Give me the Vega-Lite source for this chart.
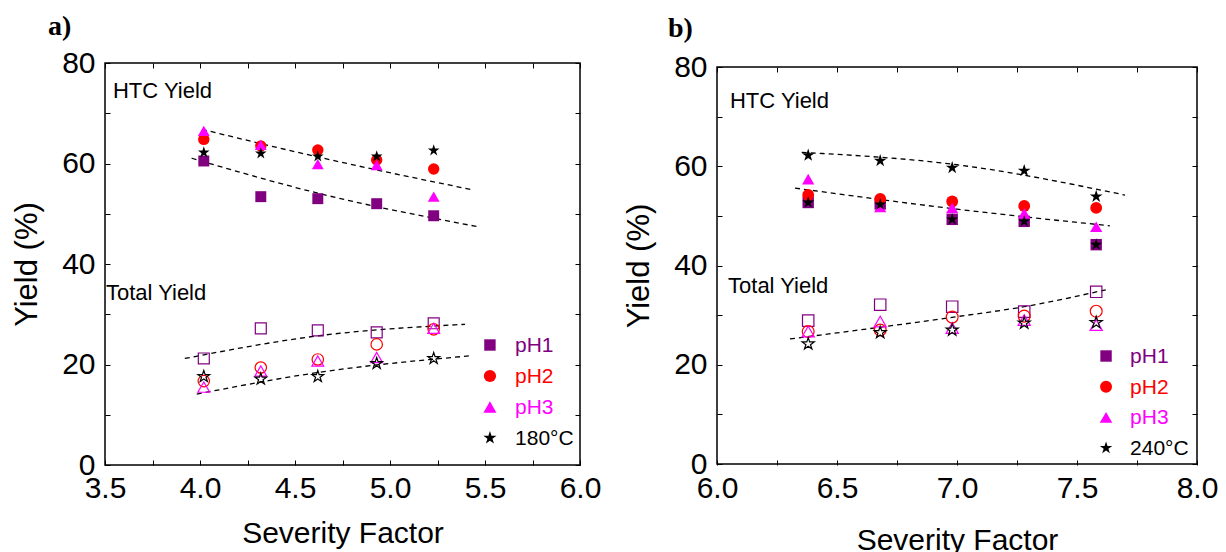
{
  "$schema": "https://vega.github.io/schema/vega-lite/v6.json",
  "background": "white",
  "autosize": {"type": "none"},
  "width": 1092,
  "height": 402,
  "padding": {"left": 105, "top": 63, "right": 29, "bottom": 87},
  "data": {
    "values": [
      {"panel": "a", "kind": "HTC", "series": "pH1", "sf": 4.02, "yield": 60.5},
      {"panel": "a", "kind": "HTC", "series": "pH1", "sf": 4.32, "yield": 53.4},
      {"panel": "a", "kind": "HTC", "series": "pH1", "sf": 4.62, "yield": 53.0},
      {"panel": "a", "kind": "HTC", "series": "pH1", "sf": 4.93, "yield": 52.0},
      {"panel": "a", "kind": "HTC", "series": "pH1", "sf": 5.23, "yield": 49.6},
      {"panel": "a", "kind": "HTC", "series": "pH2", "sf": 4.02, "yield": 64.8},
      {"panel": "a", "kind": "HTC", "series": "pH2", "sf": 4.32, "yield": 63.5},
      {"panel": "a", "kind": "HTC", "series": "pH2", "sf": 4.62, "yield": 62.7},
      {"panel": "a", "kind": "HTC", "series": "pH2", "sf": 4.93, "yield": 60.7},
      {"panel": "a", "kind": "HTC", "series": "pH2", "sf": 5.23, "yield": 58.9},
      {"panel": "a", "kind": "HTC", "series": "pH3", "sf": 4.02, "yield": 66.5},
      {"panel": "a", "kind": "HTC", "series": "pH3", "sf": 4.32, "yield": 63.7},
      {"panel": "a", "kind": "HTC", "series": "pH3", "sf": 4.62, "yield": 59.9},
      {"panel": "a", "kind": "HTC", "series": "pH3", "sf": 4.93, "yield": 59.7},
      {"panel": "a", "kind": "HTC", "series": "pH3", "sf": 5.23, "yield": 53.4},
      {"panel": "a", "kind": "HTC", "series": "180°C", "sf": 4.02, "yield": 62.2},
      {"panel": "a", "kind": "HTC", "series": "180°C", "sf": 4.32, "yield": 62.0},
      {"panel": "a", "kind": "HTC", "series": "180°C", "sf": 4.62, "yield": 61.4},
      {"panel": "a", "kind": "HTC", "series": "180°C", "sf": 4.93, "yield": 61.4},
      {"panel": "a", "kind": "HTC", "series": "180°C", "sf": 5.23, "yield": 62.6},
      {"panel": "a", "kind": "Total", "series": "pH1", "sf": 4.02, "yield": 21.2},
      {"panel": "a", "kind": "Total", "series": "pH1", "sf": 4.32, "yield": 27.2},
      {"panel": "a", "kind": "Total", "series": "pH1", "sf": 4.62, "yield": 26.8},
      {"panel": "a", "kind": "Total", "series": "pH1", "sf": 4.93, "yield": 26.4},
      {"panel": "a", "kind": "Total", "series": "pH1", "sf": 5.23, "yield": 28.2},
      {"panel": "a", "kind": "Total", "series": "pH2", "sf": 4.02, "yield": 16.7},
      {"panel": "a", "kind": "Total", "series": "pH2", "sf": 4.32, "yield": 19.4},
      {"panel": "a", "kind": "Total", "series": "pH2", "sf": 4.62, "yield": 21.0},
      {"panel": "a", "kind": "Total", "series": "pH2", "sf": 4.93, "yield": 24.0},
      {"panel": "a", "kind": "Total", "series": "pH2", "sf": 5.23, "yield": 27.0},
      {"panel": "a", "kind": "Total", "series": "pH3", "sf": 4.02, "yield": 15.5},
      {"panel": "a", "kind": "Total", "series": "pH3", "sf": 4.32, "yield": 18.7},
      {"panel": "a", "kind": "Total", "series": "pH3", "sf": 4.62, "yield": 20.7},
      {"panel": "a", "kind": "Total", "series": "pH3", "sf": 4.93, "yield": 21.4},
      {"panel": "a", "kind": "Total", "series": "pH3", "sf": 5.23, "yield": 27.2},
      {"panel": "a", "kind": "Total", "series": "180°C", "sf": 4.02, "yield": 17.6},
      {"panel": "a", "kind": "Total", "series": "180°C", "sf": 4.32, "yield": 17.1},
      {"panel": "a", "kind": "Total", "series": "180°C", "sf": 4.62, "yield": 17.6},
      {"panel": "a", "kind": "Total", "series": "180°C", "sf": 4.93, "yield": 20.2},
      {"panel": "a", "kind": "Total", "series": "180°C", "sf": 5.23, "yield": 21.2},
      {"panel": "a", "kind": "trend", "series": "HTC upper", "sf": 4.01, "yield": 66.8},
      {"panel": "a", "kind": "trend", "series": "HTC upper", "sf": 4.62, "yield": 61.3},
      {"panel": "a", "kind": "trend", "series": "HTC upper", "sf": 5.43, "yield": 54.8},
      {"panel": "a", "kind": "trend", "series": "HTC lower", "sf": 3.956, "yield": 61.05},
      {"panel": "a", "kind": "trend", "series": "HTC lower", "sf": 4.62, "yield": 54.1},
      {"panel": "a", "kind": "trend", "series": "HTC lower", "sf": 5.465, "yield": 47.4},
      {"panel": "a", "kind": "trend", "series": "Total upper", "sf": 3.92, "yield": 21.2},
      {"panel": "a", "kind": "trend", "series": "Total upper", "sf": 4.62, "yield": 25.7},
      {"panel": "a", "kind": "trend", "series": "Total upper", "sf": 5.395, "yield": 28.0},
      {"panel": "a", "kind": "trend", "series": "Total lower", "sf": 3.983, "yield": 14.1},
      {"panel": "a", "kind": "trend", "series": "Total lower", "sf": 4.62, "yield": 18.4},
      {"panel": "a", "kind": "trend", "series": "Total lower", "sf": 5.415, "yield": 21.7},
      {"panel": "b", "kind": "ref", "series": "240°C (top)", "sf": 6.38, "yield": 62.2},
      {"panel": "b", "kind": "ref", "series": "240°C (top)", "sf": 6.68, "yield": 61.1},
      {"panel": "b", "kind": "ref", "series": "240°C (top)", "sf": 6.98, "yield": 59.7},
      {"panel": "b", "kind": "ref", "series": "240°C (top)", "sf": 7.28, "yield": 59.1},
      {"panel": "b", "kind": "ref", "series": "240°C (top)", "sf": 7.58, "yield": 53.9},
      {"panel": "b", "kind": "HTC", "series": "pH1", "sf": 6.38, "yield": 52.7},
      {"panel": "b", "kind": "HTC", "series": "pH1", "sf": 6.68, "yield": 52.4},
      {"panel": "b", "kind": "HTC", "series": "pH1", "sf": 6.98, "yield": 49.3},
      {"panel": "b", "kind": "HTC", "series": "pH1", "sf": 7.28, "yield": 48.9},
      {"panel": "b", "kind": "HTC", "series": "pH1", "sf": 7.58, "yield": 44.2},
      {"panel": "b", "kind": "HTC", "series": "pH2", "sf": 6.38, "yield": 54.2},
      {"panel": "b", "kind": "HTC", "series": "pH2", "sf": 6.68, "yield": 53.4},
      {"panel": "b", "kind": "HTC", "series": "pH2", "sf": 6.98, "yield": 52.9},
      {"panel": "b", "kind": "HTC", "series": "pH2", "sf": 7.28, "yield": 52.0},
      {"panel": "b", "kind": "HTC", "series": "pH2", "sf": 7.58, "yield": 51.6},
      {"panel": "b", "kind": "HTC", "series": "pH3", "sf": 6.38, "yield": 57.4},
      {"panel": "b", "kind": "HTC", "series": "pH3", "sf": 6.68, "yield": 51.8},
      {"panel": "b", "kind": "HTC", "series": "pH3", "sf": 6.98, "yield": 51.6},
      {"panel": "b", "kind": "HTC", "series": "pH3", "sf": 7.28, "yield": 50.5},
      {"panel": "b", "kind": "HTC", "series": "pH3", "sf": 7.58, "yield": 47.8},
      {"panel": "b", "kind": "HTC", "series": "240°C", "sf": 6.38, "yield": 52.7},
      {"panel": "b", "kind": "HTC", "series": "240°C", "sf": 6.68, "yield": 52.3},
      {"panel": "b", "kind": "HTC", "series": "240°C", "sf": 6.98, "yield": 49.3},
      {"panel": "b", "kind": "HTC", "series": "240°C", "sf": 7.28, "yield": 48.9},
      {"panel": "b", "kind": "HTC", "series": "240°C", "sf": 7.58, "yield": 44.2},
      {"panel": "b", "kind": "Total", "series": "pH1", "sf": 6.38, "yield": 28.9},
      {"panel": "b", "kind": "Total", "series": "pH1", "sf": 6.68, "yield": 32.1},
      {"panel": "b", "kind": "Total", "series": "pH1", "sf": 6.98, "yield": 31.7},
      {"panel": "b", "kind": "Total", "series": "pH1", "sf": 7.28, "yield": 30.7},
      {"panel": "b", "kind": "Total", "series": "pH1", "sf": 7.58, "yield": 34.7},
      {"panel": "b", "kind": "Total", "series": "pH2", "sf": 6.38, "yield": 26.7},
      {"panel": "b", "kind": "Total", "series": "pH2", "sf": 6.68, "yield": 27.0},
      {"panel": "b", "kind": "Total", "series": "pH2", "sf": 6.98, "yield": 29.6},
      {"panel": "b", "kind": "Total", "series": "pH2", "sf": 7.28, "yield": 29.8},
      {"panel": "b", "kind": "Total", "series": "pH2", "sf": 7.58, "yield": 30.8},
      {"panel": "b", "kind": "Total", "series": "pH3", "sf": 6.38, "yield": 26.7},
      {"panel": "b", "kind": "Total", "series": "pH3", "sf": 6.68, "yield": 28.7},
      {"panel": "b", "kind": "Total", "series": "pH3", "sf": 6.98, "yield": 27.4},
      {"panel": "b", "kind": "Total", "series": "pH3", "sf": 7.28, "yield": 29.0},
      {"panel": "b", "kind": "Total", "series": "pH3", "sf": 7.58, "yield": 28.0},
      {"panel": "b", "kind": "Total", "series": "240°C", "sf": 6.38, "yield": 24.2},
      {"panel": "b", "kind": "Total", "series": "240°C", "sf": 6.68, "yield": 26.5},
      {"panel": "b", "kind": "Total", "series": "240°C", "sf": 6.98, "yield": 27.0},
      {"panel": "b", "kind": "Total", "series": "240°C", "sf": 7.28, "yield": 28.4},
      {"panel": "b", "kind": "Total", "series": "240°C", "sf": 7.58, "yield": 28.5},
      {"panel": "b", "kind": "trend", "series": "HTC upper", "sf": 6.353, "yield": 62.8},
      {"panel": "b", "kind": "trend", "series": "HTC upper", "sf": 7.0, "yield": 60.3},
      {"panel": "b", "kind": "trend", "series": "HTC upper", "sf": 7.7, "yield": 54.2},
      {"panel": "b", "kind": "trend", "series": "HTC lower", "sf": 6.325, "yield": 55.6},
      {"panel": "b", "kind": "trend", "series": "HTC lower", "sf": 7.0, "yield": 51.35},
      {"panel": "b", "kind": "trend", "series": "HTC lower", "sf": 7.637, "yield": 48.0},
      {"panel": "b", "kind": "trend", "series": "Total", "sf": 6.304, "yield": 25.2},
      {"panel": "b", "kind": "trend", "series": "Total", "sf": 7.0, "yield": 29.7},
      {"panel": "b", "kind": "trend", "series": "Total", "sf": 7.28, "yield": 31.7},
      {"panel": "b", "kind": "trend", "series": "Total", "sf": 7.62, "yield": 35.1}
    ]
  },
  "layer": [
    {
      "data": {"values": [{}]},
      "mark": {"type": "rect", "fill": "transparent", "stroke": "#000", "strokeWidth": 1.5},
      "encoding": {
        "x": {"datum": 3.5, "scale": {"domain": [3.5, 6.0], "range": [0, 475], "nice": false, "zero": false},
              "axis": {"orient": "top", "labels": false, "title": null, "values": [3.5, 3.75, 4.0, 4.25, 4.5, 4.75, 5.0, 5.25, 5.5, 5.75, 6.0]}},
        "x2": {"datum": 6.0},
        "y": {"datum": 0, "scale": {"domain": [0, 80], "range": [402, 0], "nice": false, "zero": false},
              "axis": {"orient": "right", "offset": -617, "labels": false, "title": null, "values": [0, 10, 20, 30, 40, 50, 60, 70, 80]}},
        "y2": {"datum": 80}
      }
    },
    {
      "data": {"values": [{}]},
      "mark": {"type": "rect", "fill": "transparent", "stroke": "#000", "strokeWidth": 1.5},
      "encoding": {
        "x": {"datum": 6.0, "scale": {"domain": [6.0, 8.0], "range": [612, 1092], "nice": false, "zero": false},
              "axis": {"orient": "top", "offset": -4, "labels": false, "title": null, "values": [6.0, 6.25, 6.5, 6.75, 7.0, 7.25, 7.5, 7.75, 8.0]}},
        "x2": {"datum": 8.0},
        "y": {"datum": 0, "scale": {"domain": [0, 80], "range": [401, 4], "nice": false, "zero": false},
              "axis": {"orient": "right", "labels": false, "title": null, "values": [0, 10, 20, 30, 40, 50, 60, 70, 80]}},
        "y2": {"datum": 80}
      }
    },
    {
      "transform": [{"filter": "datum.panel == 'a' && datum.kind == 'trend'"}],
      "mark": {"type": "line", "strokeDash": [5, 4], "strokeWidth": 1.3, "color": "#000", "interpolate": "monotone"},
      "encoding": {
        "x": {"field": "sf", "type": "quantitative", "scale": {"domain": [3.5, 6.0], "range": [0, 475], "nice": false, "zero": false},
              "axis": {"orient": "bottom", "title": "Severity Factor", "titlePadding": 15, "labelPadding": 13,
                       "values": [3.5, 3.75, 4.0, 4.25, 4.5, 4.75, 5.0, 5.25, 5.5, 5.75, 6.0],
                       "labelExpr": "(datum.value * 2) % 1 == 0 ? format(datum.value, '.1f') : ''"}},
        "y": {"field": "yield", "type": "quantitative", "scale": {"domain": [0, 80], "range": [402, 0], "nice": false, "zero": false},
              "axis": {"orient": "left", "title": "Yield (%)", "titlePadding": 18, "labelPadding": 15, "titleFontSize": 31,
                       "values": [0, 10, 20, 30, 40, 50, 60, 70, 80],
                       "labelExpr": "datum.value % 20 == 0 ? datum.label : ''"}},
        "detail": {"field": "series"}
      }
    },
    {
      "transform": [{"filter": "datum.panel == 'a' && datum.kind == 'HTC'"}],
      "mark": {"type": "point", "filled": true, "opacity": 1, "strokeWidth": 0},
      "encoding": {
        "x": {"field": "sf", "type": "quantitative", "scale": {"domain": [3.5, 6.0], "range": [0, 475], "nice": false, "zero": false}, "axis": null},
        "y": {"field": "yield", "type": "quantitative", "scale": {"domain": [0, 80], "range": [402, 0], "nice": false, "zero": false}, "axis": null},
        "color": {"field": "series", "type": "nominal", "scale": {"domain": ["pH1", "pH2", "pH3", "180°C"], "range": ["#800080", "#ff0000", "#ff00ff", "#000000"]}, "legend": null},
        "shape": {"field": "series", "type": "nominal", "scale": {"domain": ["pH1", "pH2", "pH3", "180°C"], "range": ["square", "circle", "triangle-up", "M0,-1L0.2245,-0.309L0.9511,-0.309L0.3633,0.118L0.5878,0.809L0,0.382L-0.5878,0.809L-0.3633,0.118L-0.9511,-0.309L-0.2245,-0.309Z"]}, "legend": null},
        "size": {"field": "series", "type": "nominal", "scale": {"domain": ["pH1", "pH2", "pH3", "180°C"], "range": [120, 150, 210, 190]}, "legend": null}
      }
    },
    {
      "transform": [{"filter": "datum.panel == 'a' && datum.kind == 'Total'"}],
      "mark": {"type": "point", "filled": false, "opacity": 1, "strokeWidth": 1.2},
      "encoding": {
        "x": {"field": "sf", "type": "quantitative", "scale": {"domain": [3.5, 6.0], "range": [0, 475], "nice": false, "zero": false}, "axis": null},
        "y": {"field": "yield", "type": "quantitative", "scale": {"domain": [0, 80], "range": [402, 0], "nice": false, "zero": false}, "axis": null},
        "color": {"field": "series", "type": "nominal", "scale": {"domain": ["pH1", "pH2", "pH3", "180°C"], "range": ["#800080", "#ff0000", "#ff00ff", "#000000"]}, "legend": null},
        "shape": {"field": "series", "type": "nominal", "scale": {"domain": ["pH1", "pH2", "pH3", "180°C"], "range": ["square", "circle", "triangle-up", "M0,-1L0.2245,-0.309L0.9511,-0.309L0.3633,0.118L0.5878,0.809L0,0.382L-0.5878,0.809L-0.3633,0.118L-0.9511,-0.309L-0.2245,-0.309Z"]}, "legend": null},
        "size": {"field": "series", "type": "nominal", "scale": {"domain": ["pH1", "pH2", "pH3", "180°C"], "range": [120, 150, 210, 190]}, "legend": null}
      }
    },
    {
      "data": {"values": [{"series": "pH1"}, {"series": "pH2"}, {"series": "pH3"}, {"series": "180°C"}]},
      "mark": {"type": "point", "filled": true, "opacity": 1, "strokeWidth": 0},
      "encoding": {
        "x": {"datum": 5.526, "scale": {"domain": [3.5, 6.0], "range": [0, 475], "nice": false, "zero": false}, "axis": null},
        "y": {"field": "series", "type": "nominal", "scale": {"type": "point", "domain": ["pH1", "pH2", "pH3", "180°C"], "range": [282, 375], "padding": 0}, "axis": null},
        "color": {"field": "series", "type": "nominal", "scale": {"domain": ["pH1", "pH2", "pH3", "180°C"], "range": ["#800080", "#ff0000", "#ff00ff", "#000000"]}, "legend": null},
        "shape": {"field": "series", "type": "nominal", "scale": {"domain": ["pH1", "pH2", "pH3", "180°C"], "range": ["square", "circle", "triangle-up", "M0,-1L0.2245,-0.309L0.9511,-0.309L0.3633,0.118L0.5878,0.809L0,0.382L-0.5878,0.809L-0.3633,0.118L-0.9511,-0.309L-0.2245,-0.309Z"]}, "legend": null},
        "size": {"field": "series", "type": "nominal", "scale": {"domain": ["pH1", "pH2", "pH3", "180°C"], "range": [130, 190, 220, 220]}, "legend": null}
      }
    },
    {
      "data": {"values": [{"series": "pH1"}, {"series": "pH2"}, {"series": "pH3"}, {"series": "180°C"}]},
      "mark": {"type": "text", "align": "left", "baseline": "middle", "font": "Liberation Sans", "fontSize": 21, "dy": 1},
      "encoding": {
        "x": {"datum": 5.658, "scale": {"domain": [3.5, 6.0], "range": [0, 475], "nice": false, "zero": false}, "axis": null},
        "y": {"field": "series", "type": "nominal", "scale": {"type": "point", "domain": ["pH1", "pH2", "pH3", "180°C"], "range": [282, 375], "padding": 0}, "axis": null},
        "text": {"field": "series"},
        "color": {"field": "series", "type": "nominal", "scale": {"domain": ["pH1", "pH2", "pH3", "180°C"], "range": ["#800080", "#ff0000", "#ff00ff", "#000000"]}, "legend": null}
      }
    },
    {
      "data": {"values": [{}]},
      "mark": {"type": "text", "align": "left", "baseline": "alphabetic", "font": "Liberation Sans", "fontSize": 22, "color": "#000"},
      "encoding": {
        "x": {"datum": 3.542, "scale": {"domain": [3.5, 6.0], "range": [0, 475], "nice": false, "zero": false}, "axis": null},
        "y": {"datum": 73.0, "scale": {"domain": [0, 80], "range": [402, 0], "nice": false, "zero": false}, "axis": null},
        "text": {"value": "HTC Yield"}
      }
    },
    {
      "data": {"values": [{}]},
      "mark": {"type": "text", "align": "left", "baseline": "alphabetic", "font": "Liberation Sans", "fontSize": 22, "color": "#000"},
      "encoding": {
        "x": {"datum": 3.505, "scale": {"domain": [3.5, 6.0], "range": [0, 475], "nice": false, "zero": false}, "axis": null},
        "y": {"datum": 32.9, "scale": {"domain": [0, 80], "range": [402, 0], "nice": false, "zero": false}, "axis": null},
        "text": {"value": "Total Yield"}
      }
    },
    {
      "data": {"values": [{}]},
      "mark": {"type": "text", "align": "left", "baseline": "alphabetic", "font": "Liberation Serif", "fontWeight": "bold", "fontSize": 28, "color": "#000"},
      "encoding": {
        "x": {"datum": 3.2, "scale": {"domain": [3.5, 6.0], "range": [0, 475], "nice": false, "zero": false}, "axis": null},
        "y": {"datum": 85.5, "scale": {"domain": [0, 80], "range": [402, 0], "nice": false, "zero": false}, "axis": null},
        "text": {"value": "a)"}
      }
    },
    {
      "transform": [{"filter": "datum.panel == 'b' && datum.kind == 'trend'"}],
      "mark": {"type": "line", "strokeDash": [5, 4], "strokeWidth": 1.3, "color": "#000", "interpolate": "monotone"},
      "encoding": {
        "x": {"field": "sf", "type": "quantitative", "scale": {"domain": [6.0, 8.0], "range": [612, 1092], "nice": false, "zero": false},
              "axis": {"orient": "bottom", "title": "Severity Factor", "titlePadding": 22, "labelPadding": 13,
                       "values": [6.0, 6.25, 6.5, 6.75, 7.0, 7.25, 7.5, 7.75, 8.0],
                       "labelExpr": "(datum.value * 2) % 1 == 0 ? format(datum.value, '.1f') : ''"}},
        "y": {"field": "yield", "type": "quantitative", "scale": {"domain": [0, 80], "range": [401, 4], "nice": false, "zero": false},
              "axis": {"orient": "left", "offset": -612, "title": "Yield (%)", "titlePadding": 18, "labelPadding": 15, "titleFontSize": 31,
                       "values": [0, 10, 20, 30, 40, 50, 60, 70, 80],
                       "labelExpr": "datum.value % 20 == 0 ? datum.label : ''"}},
        "detail": {"field": "series"}
      }
    },
    {
      "transform": [{"filter": "datum.panel == 'b' && datum.kind == 'ref'"}],
      "mark": {"type": "point", "filled": true, "opacity": 1, "strokeWidth": 0, "shape": "M0,-1L0.2245,-0.309L0.9511,-0.309L0.3633,0.118L0.5878,0.809L0,0.382L-0.5878,0.809L-0.3633,0.118L-0.9511,-0.309L-0.2245,-0.309Z", "size": 180, "color": "#000"},
      "encoding": {
        "x": {"field": "sf", "type": "quantitative", "scale": {"domain": [6.0, 8.0], "range": [612, 1092], "nice": false, "zero": false}, "axis": null},
        "y": {"field": "yield", "type": "quantitative", "scale": {"domain": [0, 80], "range": [401, 4], "nice": false, "zero": false}, "axis": null}
      }
    },
    {
      "transform": [{"filter": "datum.panel == 'b' && datum.kind == 'HTC'"}],
      "mark": {"type": "point", "filled": true, "opacity": 1, "strokeWidth": 0},
      "encoding": {
        "x": {"field": "sf", "type": "quantitative", "scale": {"domain": [6.0, 8.0], "range": [612, 1092], "nice": false, "zero": false}, "axis": null},
        "y": {"field": "yield", "type": "quantitative", "scale": {"domain": [0, 80], "range": [401, 4], "nice": false, "zero": false}, "axis": null},
        "color": {"field": "series", "type": "nominal", "scale": {"domain": ["pH1", "pH2", "pH3", "240°C"], "range": ["#800080", "#ff0000", "#ff00ff", "#000000"]}, "legend": null},
        "shape": {"field": "series", "type": "nominal", "scale": {"domain": ["pH1", "pH2", "pH3", "240°C"], "range": ["square", "circle", "triangle-up", "M0,-1L0.2245,-0.309L0.9511,-0.309L0.3633,0.118L0.5878,0.809L0,0.382L-0.5878,0.809L-0.3633,0.118L-0.9511,-0.309L-0.2245,-0.309Z"]}, "legend": null},
        "size": {"field": "series", "type": "nominal", "scale": {"domain": ["pH1", "pH2", "pH3", "240°C"], "range": [130, 160, 210, 70]}, "legend": null}
      }
    },
    {
      "transform": [{"filter": "datum.panel == 'b' && datum.kind == 'Total'"}],
      "mark": {"type": "point", "filled": false, "opacity": 1, "strokeWidth": 1.2},
      "encoding": {
        "x": {"field": "sf", "type": "quantitative", "scale": {"domain": [6.0, 8.0], "range": [612, 1092], "nice": false, "zero": false}, "axis": null},
        "y": {"field": "yield", "type": "quantitative", "scale": {"domain": [0, 80], "range": [401, 4], "nice": false, "zero": false}, "axis": null},
        "color": {"field": "series", "type": "nominal", "scale": {"domain": ["pH1", "pH2", "pH3", "240°C"], "range": ["#800080", "#ff0000", "#ff00ff", "#000000"]}, "legend": null},
        "shape": {"field": "series", "type": "nominal", "scale": {"domain": ["pH1", "pH2", "pH3", "240°C"], "range": ["square", "circle", "triangle-up", "M0,-1L0.2245,-0.309L0.9511,-0.309L0.3633,0.118L0.5878,0.809L0,0.382L-0.5878,0.809L-0.3633,0.118L-0.9511,-0.309L-0.2245,-0.309Z"]}, "legend": null},
        "size": {"field": "series", "type": "nominal", "scale": {"domain": ["pH1", "pH2", "pH3", "240°C"], "range": [130, 160, 210, 180]}, "legend": null}
      }
    },
    {
      "data": {"values": [{"series": "pH1"}, {"series": "pH2"}, {"series": "pH3"}, {"series": "240°C"}]},
      "mark": {"type": "point", "filled": true, "opacity": 1, "strokeWidth": 0},
      "encoding": {
        "x": {"datum": 7.621, "scale": {"domain": [6.0, 8.0], "range": [612, 1092], "nice": false, "zero": false}, "axis": null},
        "y": {"field": "series", "type": "nominal", "scale": {"type": "point", "domain": ["pH1", "pH2", "pH3", "240°C"], "range": [293, 385], "padding": 0}, "axis": null},
        "color": {"field": "series", "type": "nominal", "scale": {"domain": ["pH1", "pH2", "pH3", "240°C"], "range": ["#800080", "#ff0000", "#ff00ff", "#000000"]}, "legend": null},
        "shape": {"field": "series", "type": "nominal", "scale": {"domain": ["pH1", "pH2", "pH3", "240°C"], "range": ["square", "circle", "triangle-up", "M0,-1L0.2245,-0.309L0.9511,-0.309L0.3633,0.118L0.5878,0.809L0,0.382L-0.5878,0.809L-0.3633,0.118L-0.9511,-0.309L-0.2245,-0.309Z"]}, "legend": null},
        "size": {"field": "series", "type": "nominal", "scale": {"domain": ["pH1", "pH2", "pH3", "240°C"], "range": [130, 170, 210, 100]}, "legend": null}
      }
    },
    {
      "data": {"values": [{"series": "pH1"}, {"series": "pH2"}, {"series": "pH3"}, {"series": "240°C"}]},
      "mark": {"type": "text", "align": "left", "baseline": "middle", "font": "Liberation Sans", "fontSize": 21, "dy": 1},
      "encoding": {
        "x": {"datum": 7.721, "scale": {"domain": [6.0, 8.0], "range": [612, 1092], "nice": false, "zero": false}, "axis": null},
        "y": {"field": "series", "type": "nominal", "scale": {"type": "point", "domain": ["pH1", "pH2", "pH3", "240°C"], "range": [293, 385], "padding": 0}, "axis": null},
        "text": {"field": "series"},
        "color": {"field": "series", "type": "nominal", "scale": {"domain": ["pH1", "pH2", "pH3", "240°C"], "range": ["#800080", "#ff0000", "#ff00ff", "#000000"]}, "legend": null}
      }
    },
    {
      "data": {"values": [{}]},
      "mark": {"type": "text", "align": "left", "baseline": "alphabetic", "font": "Liberation Sans", "fontSize": 22, "color": "#000"},
      "encoding": {
        "x": {"datum": 6.054, "scale": {"domain": [6.0, 8.0], "range": [612, 1092], "nice": false, "zero": false}, "axis": null},
        "y": {"datum": 71.7, "scale": {"domain": [0, 80], "range": [401, 4], "nice": false, "zero": false}, "axis": null},
        "text": {"value": "HTC Yield"}
      }
    },
    {
      "data": {"values": [{}]},
      "mark": {"type": "text", "align": "left", "baseline": "alphabetic", "font": "Liberation Sans", "fontSize": 22, "color": "#000"},
      "encoding": {
        "x": {"datum": 6.046, "scale": {"domain": [6.0, 8.0], "range": [612, 1092], "nice": false, "zero": false}, "axis": null},
        "y": {"datum": 34.5, "scale": {"domain": [0, 80], "range": [401, 4], "nice": false, "zero": false}, "axis": null},
        "text": {"value": "Total Yield"}
      }
    },
    {
      "data": {"values": [{}]},
      "mark": {"type": "text", "align": "left", "baseline": "alphabetic", "font": "Liberation Serif", "fontWeight": "bold", "fontSize": 28, "color": "#000"},
      "encoding": {
        "x": {"datum": 5.796, "scale": {"domain": [6.0, 8.0], "range": [612, 1092], "nice": false, "zero": false}, "axis": null},
        "y": {"datum": 86.0, "scale": {"domain": [0, 80], "range": [401, 4], "nice": false, "zero": false}, "axis": null},
        "text": {"value": "b)"}
      }
    }
  ],
  "resolve": {
    "scale": {"x": "independent", "y": "independent", "color": "independent", "shape": "independent", "size": "independent"},
    "axis": {"x": "independent", "y": "independent"}
  },
  "config": {
    "view": {"stroke": null},
    "legend": {"disable": true},
    "axis": {
      "labelFont": "Liberation Sans",
      "labelFontSize": 30,
      "labelColor": "#000",
      "titleFont": "Liberation Sans",
      "titleFontSize": 30,
      "titleFontWeight": "normal",
      "titleColor": "#000",
      "domain": false,
      "grid": false,
      "ticks": true,
      "tickColor": "#000",
      "tickSize": -5,
      "tickWidth": 1,
      "labelFlush": false,
      "labelOverlap": false,
      "labelBound": false
    }
  }
}
